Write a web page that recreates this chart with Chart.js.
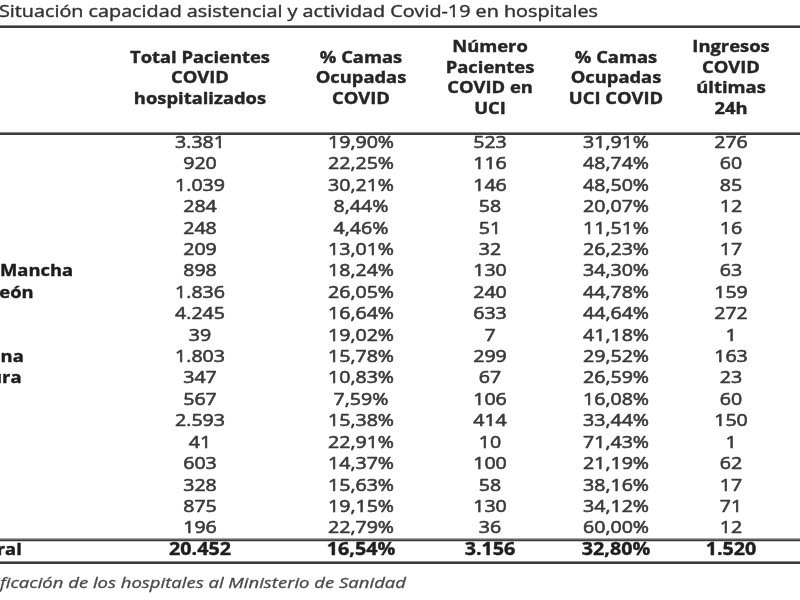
<!DOCTYPE html>
<html>
<head>
<meta charset="utf-8">
<script src="https://cdn.jsdelivr.net/npm/chart.js@4"></script>
<style>
  body { margin: 0; background: #fff; }
  #wrap { width: 800px; height: 600px; }
</style>
</head>
<body>
<div id="wrap"><canvas id="tabla"></canvas></div>
<script>
// Datos de la tabla
var titulo = 'Situación capacidad asistencial y actividad Covid-19 en hospitales';
var fuente = 'Fuente: Notificación de los hospitales al Ministerio de Sanidad';

var regiones = ['Andalucía', 'Aragón', 'Asturias', 'Baleares', 'Canarias', 'Cantabria',
    'Castilla La Mancha', 'Castilla y León', 'Cataluña', 'Ceuta', 'C. Valenciana',
    'Extremadura', 'Galicia', 'Madrid', 'Melilla', 'Murcia', 'Navarra', 'País Vasco', 'La Rioja'];
var etiquetaTotal = 'Total general';

var cabeceras = [
    ['Total Pacientes', 'COVID', 'hospitalizados'],
    ['% Camas', 'Ocupadas', 'COVID'],
    ['Número', 'Pacientes', 'COVID en', 'UCI'],
    ['% Camas', 'Ocupadas', 'UCI COVID'],
    ['Ingresos', 'COVID', 'últimas', '24h']
];

var pacientesHosp = [3381, 920, 1039, 284, 248, 209, 898, 1836, 4245, 39, 1803, 347, 567, 2593, 41, 603, 328, 875, 196];
var pctCamasCovid = [19.90, 22.25, 30.21, 8.44, 4.46, 13.01, 18.24, 26.05, 16.64, 19.02, 15.78, 10.83, 7.59, 15.38, 22.91, 14.37, 15.63, 19.15, 22.79];
var pacientesUci = [523, 116, 146, 58, 51, 32, 130, 240, 633, 7, 299, 67, 106, 414, 10, 100, 58, 130, 36];
var pctCamasUci = [31.91, 48.74, 48.50, 20.07, 11.51, 26.23, 34.30, 44.78, 44.64, 41.18, 29.52, 26.59, 16.08, 33.44, 71.43, 21.19, 38.16, 34.12, 60.00];
var ingresos24h = [276, 60, 85, 12, 16, 17, 63, 159, 272, 1, 163, 23, 60, 150, 1, 62, 17, 71, 12];
var totales = [20452, 16.54, 3156, 32.80, 1520];

// Formato de cada columna (entero con punto de miles o porcentaje con coma)
var formatos = ['int', 'pct', 'int', 'pct', 'int'];
var columnas = [pacientesHosp, pctCamasCovid, pacientesUci, pctCamasUci, ingresos24h];

// Maquetación (centro de cada columna en px de la tabla)
var centroColumna = [200, 361, 490, 616, 731];
var FUENTE = '"Open Sans", "DejaVu Sans", sans-serif';

function formatear(valor, tipo) {
    if (tipo === 'pct') {
        return valor.toFixed(2).replace('.', ',') + '%';
    }
    return String(valor).replace(/\B(?=(\d{3})+(?!\d))/g, '.');
}

// Escala horizontal para imitar la letra ancha del original
function escalaX(ctx, font, muestra, ancho) {
    ctx.font = font;
    return ancho / ctx.measureText(muestra).width;
}

// grosor: trazo extra para engordar la letra como en la imagen original
function texto(ctx, str, x, y, font, sx, align, color, grosor) {
    ctx.save();
    ctx.font = font;
    ctx.fillStyle = color;
    ctx.strokeStyle = color;
    ctx.textAlign = align;
    ctx.textBaseline = 'middle';
    ctx.translate(x, y);
    ctx.scale(sx, 1);
    ctx.fillText(str, 0, 0);
    if (grosor) {
        ctx.lineWidth = grosor;
        ctx.lineJoin = 'round';
        ctx.strokeText(str, 0, 0);
    }
    ctx.restore();
}

function linea(ctx, y, x0, x1) {
    ctx.save();
    ctx.strokeStyle = '#8a8a8a';
    ctx.lineWidth = 1;
    ctx.beginPath();
    ctx.moveTo(x0, y + 0.5);
    ctx.lineTo(x1, y + 0.5);
    ctx.stroke();
    ctx.strokeStyle = '#3c3c3c';
    ctx.lineWidth = 2;
    ctx.beginPath();
    ctx.moveTo(x0, y + 2);
    ctx.lineTo(x1, y + 2);
    ctx.stroke();
    ctx.restore();
}

var pluginTabla = {
    id: 'pluginTabla',
    beforeDraw: function(chart) {
        var ctx = chart.ctx;
        ctx.save();
        ctx.fillStyle = '#ffffff';
        ctx.fillRect(0, 0, chart.width, chart.height);
        ctx.restore();
    },
    afterDraw: function(chart) {
        var ctx = chart.ctx;
        var xS = chart.scales.x;
        var yS = chart.scales.y;
        var fTitulo = '16px ' + FUENTE;
        var fCab = 'bold 16px ' + FUENTE;
        var fDato = '17px ' + FUENTE;
        var fTotal = 'bold 17px ' + FUENTE;
        var fNota = 'italic 14px ' + FUENTE;

        var sxTitulo = escalaX(ctx, fTitulo, titulo, 599);
        var sxCab = escalaX(ctx, fCab, 'Total Pacientes', 140);
        var sxDato = escalaX(ctx, fDato, '31,91%', 66);
        var sxTotal = escalaX(ctx, fTotal, '20.452', 62);
        var sxNota = escalaX(ctx, fNota, fuente.slice(12), 406);

        var fila0 = yS.getPixelForValue(0);
        var filaT = yS.getPixelForValue(regiones.length);

        // título
        texto(ctx, titulo, -1, fila0 - 131, fTitulo, sxTitulo, 'left', '#333', 0.4);
        linea(ctx, fila0 - 118, 0, chart.width);

        // cabeceras
        cabeceras.forEach(function(lineas, c) {
            var cx = xS.getPixelForValue(centroColumna[c]);
            var alto = 20.5;
            var y0 = fila0 - 64.5 - (lineas.length - 1) * alto / 2;
            lineas.forEach(function(l, i) {
                texto(ctx, l, cx, y0 + i * alto, fCab, sxCab, 'center', '#262626', 0.4);
            });
        });
        linea(ctx, fila0 - 11, 0, chart.width);

        // etiquetas de fila (columna recortada por el borde)
        ctx.font = fCab;
        var xEtiqueta = 0 - ctx.measureText('Castilla La ').width * sxCab;
        filas.forEach(function(r, i) {
            texto(ctx, r, xEtiqueta, yS.getPixelForValue(i), fCab, sxCab, 'left', '#1e1e1e', 0.4);
        });

        // celdas, desde los puntos de cada dataset
        chart.data.datasets.forEach(function(ds, c) {
            var meta = chart.getDatasetMeta(c);
            meta.data.forEach(function(pt, i) {
                var esTotal = i === regiones.length;
                texto(ctx, formatear(ds.valores[i], formatos[c]), pt.x, pt.y,
                    esTotal ? fTotal : fDato, esTotal ? sxTotal : sxDato, 'center',
                    esTotal ? '#1e1e1e' : '#3a3a3a', esTotal ? 0.4 : 0.6);
            });
        });

        linea(ctx, (yS.getPixelForValue(regiones.length - 1) + filaT) / 2 - 1, 0, chart.width);
        linea(ctx, filaT + 11, 0, chart.width);

        // nota al pie
        ctx.font = fNota;
        var xNota = -ctx.measureText(fuente.slice(0, 12)).width * sxNota;
        texto(ctx, fuente, xNota, filaT + 34, fNota, sxNota, 'left', '#4a4a4a', 0.3);
    }
};

var filas = regiones.concat([etiquetaTotal]);

var datasets = columnas.map(function(col, c) {
    var valores = col.concat([totales[c]]);
    return {
        label: cabeceras[c].join(' '),
        valores: valores,
        data: valores.map(function(v, i) {
            return { x: centroColumna[c], y: filas[i] };
        }),
        pointRadius: 0,
        showLine: false
    };
});

new Chart(document.getElementById('tabla'), {
    type: 'scatter',
    data: { datasets: datasets },
    options: {
        responsive: true,
        maintainAspectRatio: false,
        animation: false,
        layout: { padding: { top: 143, bottom: 50, left: 0, right: 0 } },
        plugins: {
            legend: { display: false },
            tooltip: { enabled: false },
            title: { display: false }
        },
        scales: {
            x: { type: 'linear', min: 0, max: 800, display: false },
            y: { type: 'category', labels: filas, offset: false, display: false }
        }
    },
    plugins: [pluginTabla]
});
</script>
</body>
</html>
